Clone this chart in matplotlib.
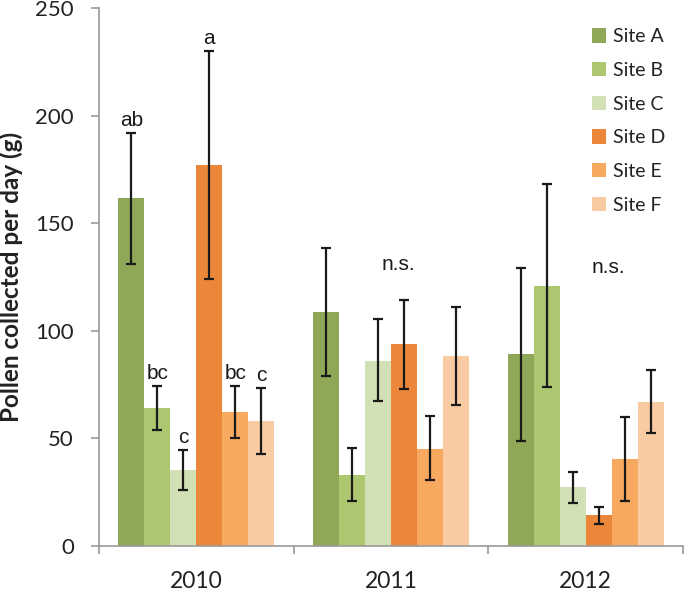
import numpy as np
import matplotlib
matplotlib.use("Agg")
import matplotlib.pyplot as plt

years = ["2010", "2011", "2012"]
sites = ["Site A", "Site B", "Site C", "Site D", "Site E", "Site F"]
colors = ["#8FA857", "#ADC670", "#D1E0B5", "#EC8739", "#F7A95F", "#F9CBA3"]

# mean pollen per site, one list per site over the three years
means = [
    [161.5, 108.7, 89.2],
    [64.0, 33.0, 120.8],
    [35.3, 86.0, 27.4],
    [177.0, 94.0, 14.4],
    [62.3, 45.1, 40.4],
    [58.1, 88.3, 67.0],
]
err_hi = [
    [191.9, 138.5, 129.2],
    [74.3, 45.5, 168.2],
    [44.6, 105.5, 34.4],
    [230.0, 114.5, 18.1],
    [74.3, 60.4, 59.9],
    [73.4, 111.1, 81.8],
]
err_lo = [
    [131.0, 79.0, 48.8],
    [53.9, 20.9, 73.9],
    [26.0, 67.4, 20.0],
    [124.0, 73.0, 10.3],
    [50.2, 30.7, 20.9],
    [42.8, 65.5, 52.5],
]
letters_2010 = ["ab", "bc", "c", "a", "bc", "c"]
ns_text = "n.s."
ns_pos = [(1, 0.04, 131), (2, 0.115, 129.6)]

fig = plt.figure(figsize=(6.84, 5.93), dpi=100)
ax = fig.add_axes([0.1447, 0.0793, 0.8538, 0.9072])

x = np.arange(len(years))
w = 0.1335
for i, site in enumerate(sites):
    xs = x + (i - 2.5) * w
    m = np.array(means[i])
    lo = m - np.array(err_lo[i])
    hi = np.array(err_hi[i]) - m
    ax.bar(xs, m, width=w, color=colors[i], label=site, zorder=2)
    ax.errorbar(xs, m, yerr=[lo, hi], fmt="none", ecolor="#1a1a1a",
                elinewidth=1.6, capsize=3.4, capthick=1.6, zorder=3)
    ax.text(xs[0], err_hi[i][0] + 1.5, letters_2010[i], ha="center", va="bottom",
            fontsize=15, family="Liberation Sans", color="#1a1a1a")

for g, dx, yv in ns_pos:
    ax.text(x[g] + dx, yv, ns_text, ha="center", va="center",
            fontsize=15, family="Liberation Sans", color="#1a1a1a")

ax.set_xlim(-0.5, 2.5)
ax.set_ylim(0, 250)
ax.set_yticks(np.arange(0, 251, 50))
ax.set_xticks([-0.5, 0.5, 1.5, 2.5])
ax.set_xticklabels([])
ax.set_xticks(x, minor=True)
ax.set_xticklabels(years, minor=True)
ax.tick_params(axis="x", which="minor", length=0, pad=18, labelsize=16.5)
ax.tick_params(axis="x", which="major", length=6, width=1.2, color="#9a9a9a")
ax.tick_params(axis="y", length=6, width=1.2, color="#9a9a9a", pad=12, labelsize=16)
for lab in ax.get_xticklabels(minor=True) + ax.get_yticklabels():
    lab.set_family("Lato")
    lab.set_color("#222222")

for s in ["top", "right"]:
    ax.spines[s].set_visible(False)
for s in ["left", "bottom"]:
    ax.spines[s].set_color("#9a9a9a")
    ax.spines[s].set_linewidth(1.2)

ax.set_ylabel("Pollen collected per day (g)", fontsize=17.5, fontweight="bold",
              family="Lato", color="#222222", labelpad=9)

leg = ax.legend(loc="upper right", frameon=False, prop={"family": "Lato", "size": 14},
                handlelength=0.75, handleheight=0.75, labelspacing=0.86, handletextpad=0.35,
                bbox_to_anchor=(1.0, 0.995))
for t in leg.get_texts():
    t.set_color("#222222")

fig.savefig("out.png", dpi=100)
